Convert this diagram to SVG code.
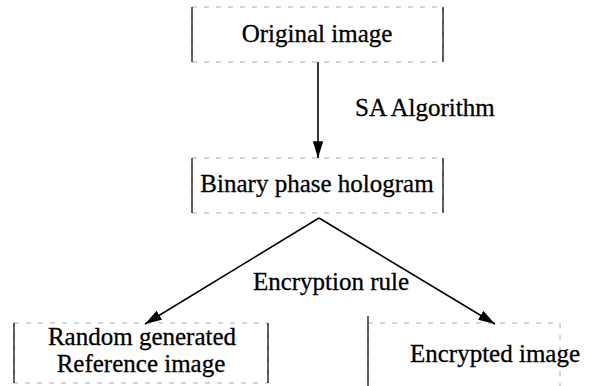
<svg xmlns="http://www.w3.org/2000/svg" width="613" height="386" viewBox="0 0 613 386">
<style>
  text { font-family: "Liberation Serif", "Times New Roman", serif; font-size: 25px; fill: #000; stroke: #000; stroke-width: 0.3; }
  .box { fill: none; stroke: #aaa; stroke-width: 1; stroke-dasharray: 5 7; }
  .side { stroke: #111; stroke-width: 1.3; }
  .conn { stroke: #000; stroke-width: 1.6; fill: none; }
</style>
<defs>
  <marker id="ah" viewBox="0 0 16 10" refX="16" refY="5" markerWidth="10.5" markerHeight="7" markerUnits="strokeWidth" orient="auto">
    <path d="M0,0 L16,5 L0,10 Z" fill="#000"/>
  </marker>
</defs>
<rect width="613" height="386" fill="#fff"/>
<g id="n-original">
  <rect class="box" x="192" y="7" width="251" height="55"/>
  <line class="side" x1="192" y1="7" x2="192" y2="62"/>
  <line class="side" x1="443" y1="7" x2="443" y2="62"/>
  <text x="317" y="42" text-anchor="middle">Original image</text>
</g>
<g id="n-hologram">
  <rect class="box" x="192" y="158" width="251" height="55"/>
  <line class="side" x1="192" y1="158" x2="192" y2="213"/>
  <line class="side" x1="443" y1="158" x2="443" y2="213"/>
  <text x="317" y="192" text-anchor="middle">Binary phase hologram</text>
</g>
<g id="n-reference">
  <rect class="box" x="14" y="323" width="254" height="60"/>
  <line class="side" x1="14" y1="323" x2="14" y2="383"/>
  <line class="side" x1="268" y1="323" x2="268" y2="383"/>
  <text x="142" y="345" text-anchor="middle">Random generated</text>
  <text x="141" y="372" text-anchor="middle">Reference image</text>
</g>
<g id="n-encrypted">
  <rect class="box" x="368" y="323" width="192" height="70"/>
  <line class="side" x1="368" y1="316" x2="368" y2="386"/>
  <text x="495" y="362" text-anchor="middle">Encrypted image</text>
</g>
<g id="connectors">
  <line class="conn" x1="318" y1="62" x2="318" y2="158" marker-end="url(#ah)"/>
  <text x="355" y="116">SA Algorithm</text>
  <line class="conn" x1="319" y1="218" x2="145" y2="324" marker-end="url(#ah)"/>
  <line class="conn" x1="319" y1="218" x2="495" y2="324" marker-end="url(#ah)"/>
  <text x="331" y="290" text-anchor="middle">Encryption rule</text>
</g>
</svg>
